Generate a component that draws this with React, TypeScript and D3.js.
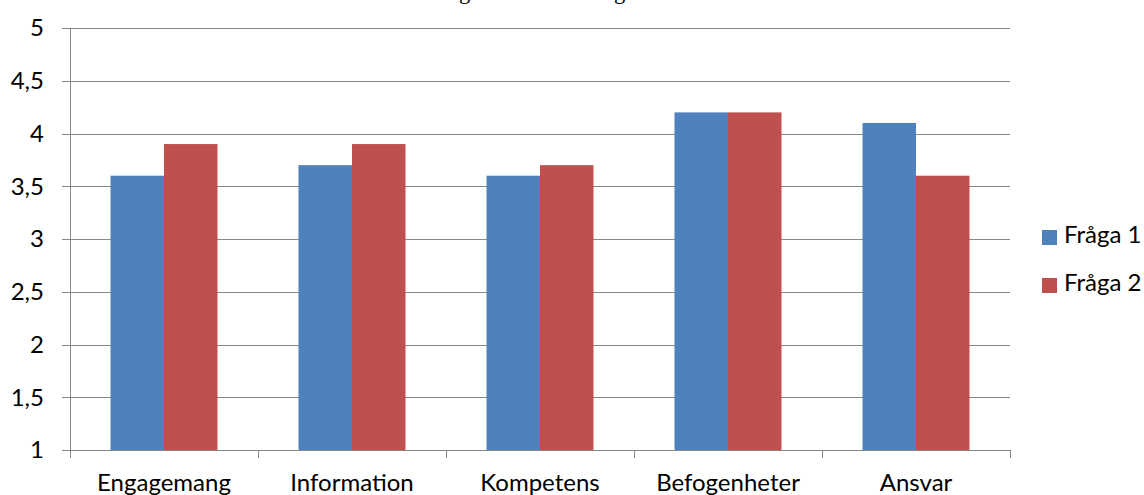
import { useEffect, useRef } from 'react';
import * as d3 from 'd3';

const categories = ['Engagemang', 'Information', 'Kompetens', 'Befogenheter', 'Ansvar'];
const seriesNames = ['Fråga 1', 'Fråga 2'];
const fraga1 = [3.6, 3.7, 3.6, 4.2, 4.1];
const fraga2 = [3.9, 3.9, 3.7, 4.2, 3.6];
const yTicks = [1, 1.5, 2, 2.5, 3, 3.5, 4, 4.5, 5];
const colors = ['#4F81BD', '#C0504D'];
const title = 'Sammanställning av undersökning';

export default function App() {
  const svgRef = useRef<SVGSVGElement>(null);

  useEffect(() => {
    if (!svgRef.current) return;
    const width = 1144;
    const height = 495;
    const font = 'Lato, "Open Sans", sans-serif';
    const fontSize = 24;

    const svg = d3.select(svgRef.current);
    svg.selectAll('*').remove();
    svg.attr('width', width).attr('height', height);

    const left = 70, right = 1010, top = 28, bottom = 450;

    const x0 = d3.scaleBand<string>().domain(categories).range([left, right]).padding(0);
    const x1 = d3.scaleBand<string>().domain(seriesNames).range([0, x0.bandwidth()])
      .paddingInner(0).paddingOuter(0.757);
    const y = d3.scaleLinear().domain([1, 5]).range([bottom, top]);

    // title, mostly above the visible area (only descenders show)
    svg.append('text')
      .attr('x', 314)
      .attr('y', -1)
      .attr('font-family', '"Liberation Serif", "Times New Roman", serif')
      .attr('font-size', 22.5)
      .attr('fill', '#000')
      .text(title);

    // gridlines
    svg.append('g')
      .selectAll('line')
      .data(yTicks)
      .enter()
      .append('line')
      .attr('x1', left - 8)
      .attr('x2', right)
      .attr('y1', d => Math.round(y(d)) + 0.5)
      .attr('y2', d => Math.round(y(d)) + 0.5)
      .attr('stroke', '#888')
      .attr('stroke-width', 1);

    // y labels
    svg.append('g')
      .selectAll('text')
      .data(yTicks)
      .enter()
      .append('text')
      .attr('x', 44)
      .attr('y', d => y(d))
      .attr('dy', '0.35em')
      .attr('text-anchor', 'end')
      .attr('font-family', font)
      .attr('font-size', fontSize)
      .attr('fill', '#000')
      .text(d => String(d).replace('.', ','));

    // bars
    const data = categories.map((c, i) => ({ cat: c, vals: [fraga1[i], fraga2[i]] }));
    const groups = svg.append('g')
      .selectAll('g')
      .data(data)
      .enter()
      .append('g')
      .attr('transform', d => `translate(${x0(d.cat)},0)`);

    groups.selectAll('rect')
      .data(d => d.vals.map((v, j) => ({ name: seriesNames[j], v, j })))
      .enter()
      .append('rect')
      .attr('x', d => x1(d.name)!)
      .attr('width', x1.bandwidth())
      .attr('y', d => y(d.v))
      .attr('height', d => y(1) - y(d.v))
      .attr('fill', d => colors[d.j]);

    // left axis line
    svg.append('line')
      .attr('x1', left + 0.5).attr('x2', left + 0.5)
      .attr('y1', top).attr('y2', bottom)
      .attr('stroke', '#888');

    // bottom axis line and ticks
    svg.append('line')
      .attr('x1', left).attr('x2', right)
      .attr('y1', bottom + 0.5).attr('y2', bottom + 0.5)
      .attr('stroke', '#888');

    const boundaries = [...categories.map(c => x0(c)!), right];
    svg.append('g')
      .selectAll('line')
      .data(boundaries)
      .enter()
      .append('line')
      .attr('x1', d => Math.round(d) + 0.5)
      .attr('x2', d => Math.round(d) + 0.5)
      .attr('y1', bottom)
      .attr('y2', bottom + 8)
      .attr('stroke', '#888');

    // category labels
    svg.append('g')
      .selectAll('text')
      .data(categories)
      .enter()
      .append('text')
      .attr('x', d => x0(d)! + x0.bandwidth() / 2)
      .attr('y', 491)
      .attr('text-anchor', 'middle')
      .attr('font-family', font)
      .attr('font-size', fontSize)
      .attr('fill', '#000')
      .text(d => d);

    // legend
    const legend = svg.append('g')
      .selectAll('g')
      .data(seriesNames)
      .enter()
      .append('g')
      .attr('transform', (d, i) => `translate(1042,${230 + i * 48})`);

    legend.append('rect')
      .attr('width', 15)
      .attr('height', 15)
      .attr('fill', (d, i) => colors[i]);

    legend.append('text')
      .attr('x', 22)
      .attr('y', 13)
      .attr('font-family', font)
      .attr('font-size', fontSize)
      .attr('fill', '#000')
      .text(d => d);
  }, []);

  return (
    <svg ref={svgRef} style={{ position: 'absolute', left: 0, top: 0, background: '#fff' }}></svg>
  );
}
